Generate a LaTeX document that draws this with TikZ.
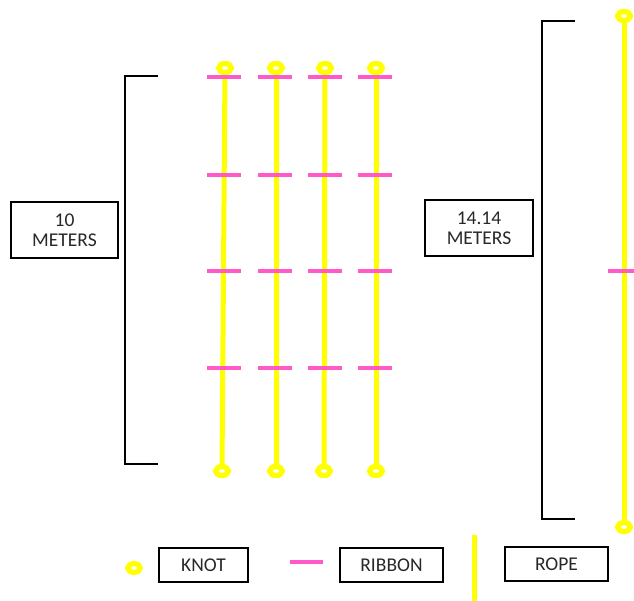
\documentclass[tikz,border=0pt]{standalone}
\usepackage{fontspec}
\setmainfont{Carlito}
\usetikzlibrary{shapes.geometric}
\definecolor{ropeyellow}{RGB}{255,255,0}
\definecolor{ribbonpink}{RGB}{255,90,200}
\definecolor{textgray}{RGB}{40,40,40}
\begin{document}
\begin{tikzpicture}[x=1pt,y=-1pt,
  knot/.style={ellipse,draw=ropeyellow,fill=white,line width=5.2pt,minimum width=12.5pt,minimum height=8.8pt,inner sep=0pt},
  rope/.style={draw=ropeyellow,line width=5pt},
  ribbon/.style={rectangle,fill=ribbonpink,minimum width=34pt,minimum height=4pt,inner sep=0pt},
  bracket/.style={draw=black,line width=2pt},
  label/.style={draw=black,line width=1.1pt,fill=white,align=center,text=textgray,font=\fontsize{19.5}{20}\selectfont,inner sep=0pt}]
\useasboundingbox (0,0) rectangle (634,600);

% four ropes of the grid, knotted at both ends
\foreach \i/\xt/\xb in {1/225/222, 2/276/276, 3/325/324, 4/376/376} {
  \node[knot] (top\i) at (\xt,68) {};
  \node[knot] (bot\i) at (\xb,471) {};
}
\foreach \i/\x in {1/224, 2/275, 3/325, 4/375} {
  \draw[rope] (top\i) -- (bot\i);
  \foreach \j/\y in {a/77, b/175, c/271, d/368}
    \node[ribbon] (rib\i\j) at (\x,\y) {};
}
\foreach \i in {1,2,3,4} { \node[knot] at (top\i) {}; \node[knot] at (bot\i) {}; }

% the diagonal rope
\node[knot] (dtop) at (624,16) {};
\node[knot] (dbot) at (624,527) {};
\draw[rope] (dtop) -- (dbot);
\node[ribbon] (dmid) at (625,271) {};
\node[knot] at (dtop) {};
\node[knot] at (dbot) {};

% left bracket
\coordinate (lt) at (158,76);
\coordinate (lb) at (158,464);
\draw[bracket] (lt) -- (125,76) -- (125,464) -- (lb);
\node[label,minimum width=107pt,minimum height=56pt] (side) at (64.5,230) {10\\METERS};

% right bracket
\coordinate (rt) at (575,21);
\coordinate (rb) at (575,519);
\draw[bracket] (rt) -- (542,21) -- (542,519) -- (rb);
\node[label,minimum width=108pt,minimum height=56pt] (diag) at (479,228) {14.14\\METERS};

% legend
\node[knot] (lknot) at (134,568) {};
\node[label,minimum width=89pt,minimum height=34pt] (lknotbox) at (203.5,565) {KNOT};
\node[ribbon,minimum width=33pt] (lrib) at (306.5,562) {};
\node[label,minimum width=103pt,minimum height=34pt] (lribbox) at (391.5,565) {RIBBON};
\coordinate (lropetop) at (474,535);
\coordinate (lropebot) at (474,602);
\draw[rope] (lropetop) -- (lropebot);
\node[label,minimum width=103pt,minimum height=34pt] (lropebox) at (556.5,564) {ROPE};
\end{tikzpicture}
\end{document}
